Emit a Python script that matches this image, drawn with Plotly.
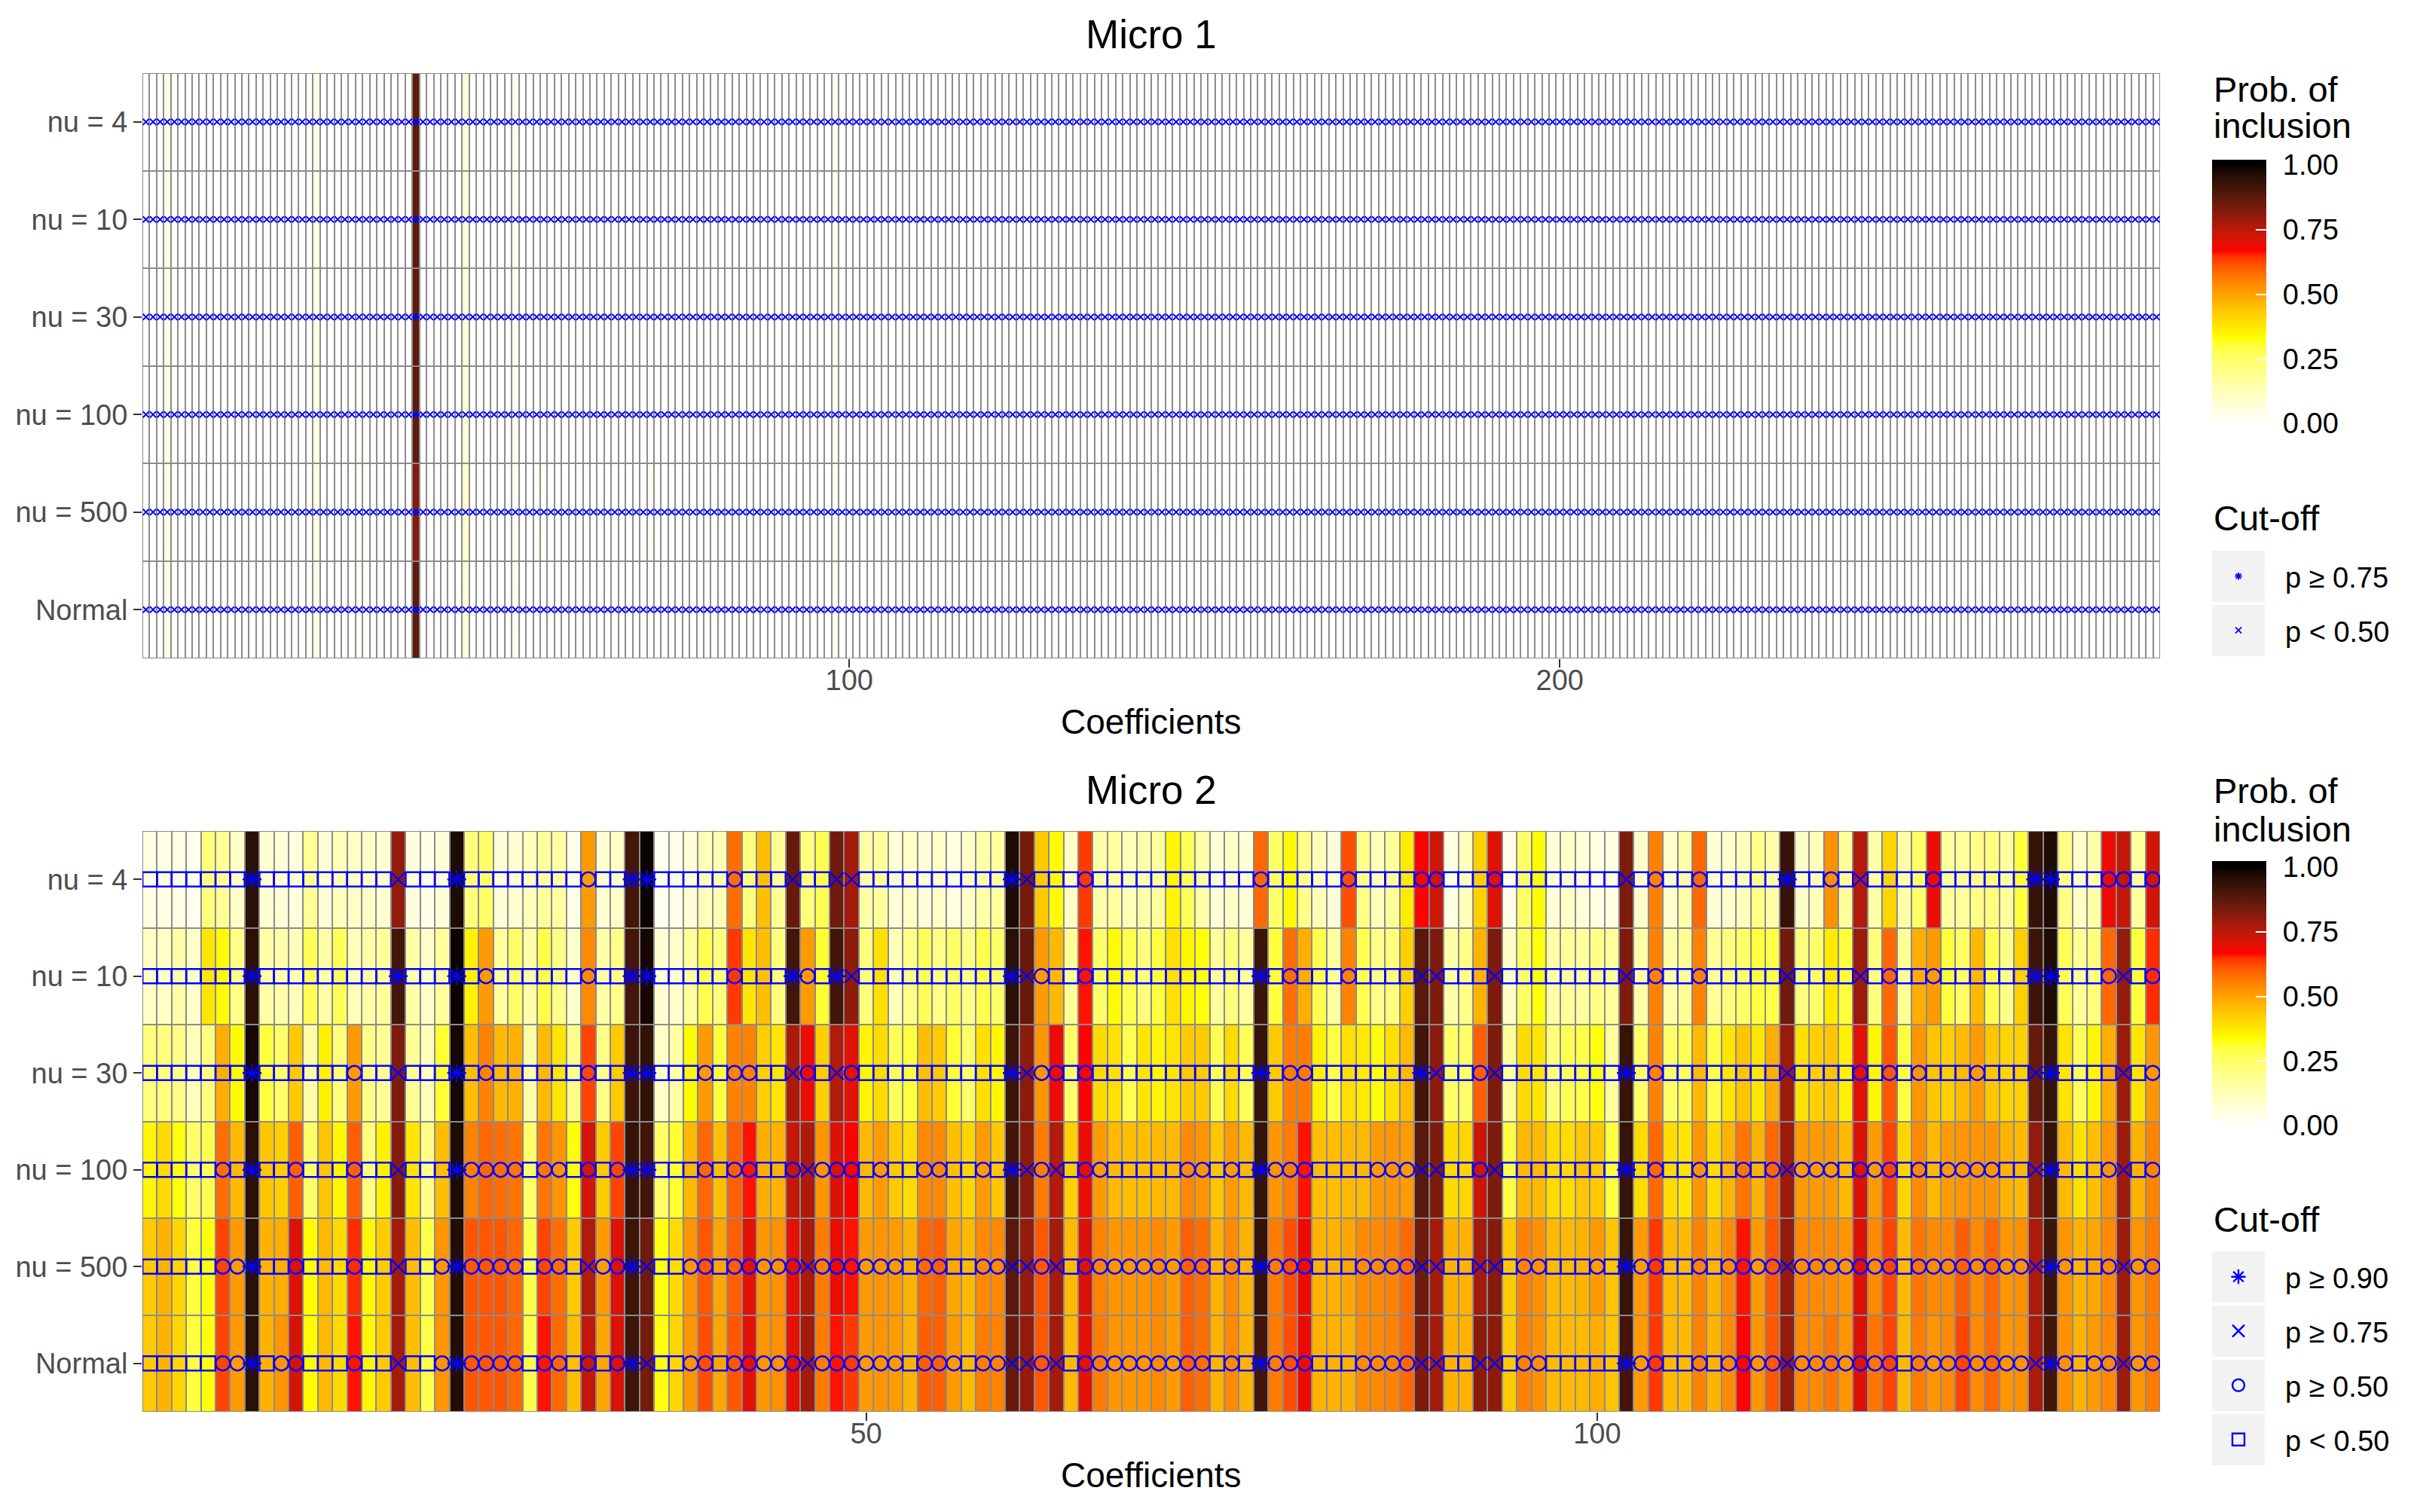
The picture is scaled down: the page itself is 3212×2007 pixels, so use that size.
import plotly.graph_objects as go

# ---------------------------------------------------------------- data
ROW_LABELS = ["nu = 4", "nu = 10", "nu = 30", "nu = 100", "nu = 500", "Normal"]
CUTOFF_LABELS = ["p \u2265 0.90", "p \u2265 0.75", "p \u2265 0.50", "p < 0.50"]
X_TICKS_MICRO1 = [100, 200]
X_TICKS_MICRO2 = [50, 100]
CBAR_TICKS = [0.00, 0.25, 0.50, 0.75, 1.00]

# Micro 1 : 284 coefficients per model
micro1_nu4 = [
    0, 0, 0, 0.04, 0, 0, 0, 0, 0, 0, 0, 0, 0, 0, 0, 0, 0, 0, 0, 0,
    0, 0, 0, 0, 0.04, 0, 0, 0, 0, 0, 0, 0, 0, 0, 0, 0, 0, 0, 0.87, 0,
    0, 0, 0, 0, 0, 0.07, 0, 0, 0, 0, 0, 0, 0.02, 0, 0, 0, 0, 0, 0, 0,
    0, 0, 0, 0, 0, 0, 0, 0, 0, 0, 0, 0, 0, 0, 0, 0, 0, 0, 0, 0,
    0, 0, 0, 0, 0, 0, 0, 0, 0, 0, 0, 0, 0, 0, 0, 0, 0, 0.02, 0, 0,
    0, 0, 0, 0, 0, 0, 0, 0, 0, 0, 0, 0, 0, 0, 0, 0, 0, 0, 0, 0,
    0, 0, 0, 0, 0, 0, 0, 0, 0, 0, 0, 0, 0, 0, 0, 0, 0, 0, 0, 0,
    0, 0, 0, 0, 0, 0, 0, 0, 0, 0, 0, 0, 0, 0, 0, 0, 0, 0, 0, 0,
    0, 0, 0, 0, 0, 0, 0, 0, 0, 0, 0, 0, 0, 0, 0, 0, 0, 0, 0, 0,
    0, 0, 0, 0, 0, 0, 0, 0, 0, 0, 0, 0, 0, 0, 0, 0, 0, 0, 0, 0,
    0, 0, 0, 0, 0, 0, 0, 0, 0, 0, 0, 0, 0, 0, 0, 0, 0, 0, 0, 0,
    0, 0, 0, 0, 0, 0, 0, 0, 0, 0, 0, 0, 0, 0, 0, 0, 0, 0, 0, 0,
    0, 0, 0, 0, 0, 0, 0, 0, 0, 0, 0, 0, 0, 0, 0, 0, 0, 0, 0, 0,
    0, 0, 0, 0, 0, 0, 0, 0, 0, 0, 0, 0, 0, 0, 0, 0, 0, 0, 0, 0,
    0, 0, 0, 0,
]
micro1_nu10 = [
    0, 0, 0, 0.04, 0, 0, 0, 0, 0, 0, 0, 0, 0, 0, 0, 0, 0, 0, 0, 0,
    0, 0, 0, 0, 0.05, 0, 0, 0, 0, 0, 0, 0, 0, 0, 0, 0, 0, 0, 0.87, 0,
    0, 0, 0, 0, 0, 0.07, 0, 0, 0, 0, 0, 0, 0.02, 0, 0, 0, 0, 0, 0, 0,
    0, 0, 0, 0, 0, 0, 0, 0, 0, 0, 0, 0, 0, 0, 0, 0, 0, 0, 0, 0,
    0, 0, 0, 0, 0, 0, 0, 0, 0, 0, 0, 0, 0, 0, 0, 0, 0, 0.02, 0, 0,
    0, 0, 0, 0, 0, 0, 0, 0, 0, 0, 0, 0, 0, 0, 0, 0, 0, 0, 0, 0,
    0, 0, 0, 0, 0, 0, 0, 0, 0, 0, 0, 0, 0, 0, 0, 0, 0, 0, 0, 0,
    0, 0, 0, 0, 0, 0, 0, 0, 0, 0, 0, 0, 0, 0, 0, 0, 0, 0, 0, 0,
    0, 0, 0, 0, 0, 0, 0, 0, 0, 0, 0, 0, 0, 0, 0, 0, 0, 0, 0, 0,
    0, 0, 0, 0, 0, 0, 0, 0, 0, 0, 0, 0, 0, 0, 0, 0, 0, 0, 0, 0,
    0, 0, 0, 0, 0, 0, 0, 0, 0, 0, 0, 0, 0, 0, 0, 0, 0, 0, 0, 0,
    0, 0, 0, 0, 0, 0, 0, 0, 0, 0, 0, 0, 0, 0, 0, 0, 0, 0, 0, 0,
    0, 0, 0, 0, 0, 0, 0, 0, 0, 0, 0, 0, 0, 0, 0, 0, 0, 0, 0, 0,
    0, 0, 0, 0, 0, 0, 0, 0, 0, 0, 0, 0, 0, 0, 0, 0, 0, 0, 0, 0,
    0, 0, 0, 0,
]
micro1_nu30 = [
    0, 0, 0, 0.04, 0, 0, 0, 0, 0, 0, 0, 0, 0, 0, 0, 0, 0, 0, 0, 0,
    0, 0, 0, 0, 0.05, 0, 0, 0, 0, 0, 0, 0, 0, 0, 0, 0, 0, 0, 0.87, 0,
    0, 0, 0, 0, 0, 0.07, 0, 0, 0, 0, 0, 0, 0.02, 0, 0, 0, 0, 0, 0, 0,
    0, 0, 0, 0, 0, 0, 0, 0, 0, 0, 0, 0, 0, 0, 0, 0, 0, 0, 0, 0,
    0, 0, 0, 0, 0, 0, 0, 0, 0, 0, 0, 0, 0, 0, 0, 0, 0, 0.02, 0, 0,
    0, 0, 0, 0, 0, 0, 0, 0, 0, 0, 0, 0, 0, 0, 0, 0, 0, 0, 0, 0,
    0, 0, 0, 0, 0, 0, 0, 0, 0, 0, 0, 0, 0, 0, 0, 0, 0, 0, 0, 0,
    0, 0, 0, 0, 0, 0, 0, 0, 0, 0, 0, 0, 0, 0, 0, 0, 0, 0, 0, 0,
    0, 0, 0, 0, 0, 0, 0, 0, 0, 0, 0, 0, 0, 0, 0, 0, 0, 0, 0, 0,
    0, 0, 0, 0, 0, 0, 0, 0, 0, 0, 0, 0, 0, 0, 0, 0, 0, 0, 0, 0,
    0, 0, 0, 0, 0, 0, 0, 0, 0, 0, 0, 0, 0, 0, 0, 0, 0, 0, 0, 0,
    0, 0, 0, 0, 0, 0, 0, 0, 0, 0, 0, 0, 0, 0, 0, 0, 0, 0, 0, 0,
    0, 0, 0, 0, 0, 0, 0, 0, 0, 0, 0, 0, 0, 0, 0, 0, 0, 0, 0, 0,
    0, 0, 0, 0, 0, 0, 0, 0, 0, 0, 0, 0, 0, 0, 0, 0, 0, 0, 0, 0,
    0, 0, 0, 0,
]
micro1_nu100 = [
    0, 0, 0, 0.04, 0, 0, 0, 0, 0, 0, 0, 0, 0, 0, 0, 0, 0, 0, 0, 0,
    0, 0, 0, 0, 0.05, 0, 0, 0, 0, 0, 0.02, 0, 0, 0, 0, 0, 0, 0, 0.87, 0,
    0, 0, 0, 0, 0, 0.07, 0, 0, 0, 0, 0, 0, 0.02, 0, 0, 0, 0, 0, 0, 0,
    0, 0, 0, 0, 0, 0, 0, 0, 0, 0, 0, 0, 0, 0, 0, 0, 0, 0, 0, 0,
    0, 0, 0, 0, 0, 0, 0, 0, 0, 0, 0, 0, 0, 0, 0, 0, 0, 0.02, 0, 0,
    0, 0, 0, 0, 0, 0, 0, 0, 0, 0, 0, 0, 0, 0, 0, 0, 0, 0, 0, 0,
    0, 0, 0, 0, 0, 0, 0, 0, 0, 0, 0, 0, 0, 0, 0, 0, 0, 0, 0, 0,
    0, 0, 0, 0, 0, 0, 0, 0, 0, 0, 0, 0, 0, 0, 0, 0, 0, 0, 0, 0,
    0, 0, 0, 0, 0, 0, 0, 0, 0, 0, 0, 0, 0, 0, 0, 0, 0, 0, 0, 0,
    0, 0, 0, 0, 0, 0, 0, 0, 0, 0, 0, 0, 0, 0, 0, 0, 0, 0, 0, 0,
    0, 0, 0, 0, 0, 0, 0, 0, 0, 0, 0, 0, 0, 0, 0, 0, 0, 0, 0, 0,
    0, 0, 0, 0, 0, 0, 0, 0, 0, 0, 0, 0, 0, 0, 0, 0, 0, 0, 0, 0,
    0, 0, 0, 0, 0, 0, 0, 0, 0, 0, 0, 0, 0, 0, 0, 0, 0, 0, 0, 0,
    0, 0, 0, 0, 0, 0, 0, 0, 0, 0, 0, 0, 0, 0, 0, 0, 0, 0, 0, 0,
    0, 0, 0, 0,
]
micro1_nu500 = [
    0, 0, 0, 0.04, 0, 0, 0, 0, 0, 0, 0, 0, 0, 0, 0, 0, 0, 0, 0, 0,
    0, 0, 0, 0, 0.05, 0, 0, 0, 0, 0, 0.02, 0, 0, 0, 0, 0, 0, 0, 0.82, 0,
    0, 0, 0, 0, 0, 0.08, 0, 0, 0, 0, 0, 0, 0.02, 0, 0, 0, 0.02, 0, 0, 0,
    0, 0, 0, 0, 0, 0, 0, 0, 0, 0, 0, 0.02, 0, 0, 0, 0, 0, 0, 0, 0,
    0, 0, 0, 0, 0, 0, 0, 0, 0, 0, 0, 0, 0, 0, 0, 0, 0, 0.02, 0, 0,
    0, 0, 0, 0, 0, 0, 0, 0, 0, 0, 0, 0, 0, 0, 0, 0, 0, 0, 0, 0,
    0, 0, 0, 0, 0, 0, 0, 0, 0, 0, 0, 0, 0, 0, 0, 0, 0, 0, 0, 0,
    0, 0, 0, 0, 0, 0, 0, 0, 0, 0, 0, 0, 0, 0, 0, 0, 0, 0, 0, 0,
    0, 0, 0, 0, 0, 0, 0, 0, 0, 0, 0, 0, 0, 0, 0, 0, 0, 0, 0, 0,
    0, 0, 0, 0, 0, 0, 0, 0, 0, 0, 0, 0, 0, 0, 0, 0, 0, 0, 0, 0,
    0, 0, 0, 0, 0, 0, 0, 0, 0, 0, 0, 0, 0, 0, 0, 0, 0, 0, 0, 0,
    0, 0, 0, 0, 0, 0, 0, 0, 0, 0, 0, 0, 0, 0, 0, 0, 0, 0, 0, 0,
    0, 0, 0, 0, 0, 0, 0, 0, 0, 0, 0, 0, 0, 0, 0, 0, 0, 0, 0, 0,
    0, 0, 0, 0, 0, 0, 0, 0, 0, 0, 0, 0, 0, 0, 0, 0, 0, 0, 0, 0,
    0, 0, 0, 0,
]
micro1_normal = [
    0, 0, 0, 0.04, 0, 0, 0, 0, 0, 0, 0, 0, 0, 0, 0, 0, 0, 0, 0, 0,
    0, 0, 0, 0, 0.04, 0, 0, 0, 0, 0, 0.02, 0, 0, 0, 0, 0, 0, 0, 0.87, 0,
    0, 0, 0, 0, 0, 0.07, 0, 0, 0, 0, 0, 0, 0.02, 0, 0, 0, 0, 0, 0, 0,
    0, 0, 0, 0, 0, 0, 0, 0, 0, 0, 0, 0, 0, 0, 0, 0, 0, 0, 0, 0,
    0, 0, 0, 0, 0, 0, 0, 0, 0, 0, 0, 0, 0, 0, 0, 0, 0, 0.02, 0, 0,
    0, 0, 0, 0, 0, 0, 0, 0, 0, 0, 0, 0, 0, 0, 0, 0, 0, 0, 0, 0,
    0, 0, 0, 0, 0, 0, 0, 0, 0, 0, 0, 0, 0, 0, 0, 0, 0, 0, 0, 0,
    0, 0, 0, 0, 0, 0, 0, 0, 0, 0, 0, 0, 0, 0, 0, 0, 0, 0, 0, 0,
    0, 0, 0, 0, 0, 0, 0, 0, 0, 0, 0, 0, 0, 0, 0, 0, 0, 0, 0, 0,
    0, 0, 0, 0, 0, 0, 0, 0, 0, 0, 0, 0, 0, 0, 0, 0, 0, 0, 0, 0,
    0, 0, 0, 0, 0, 0, 0, 0, 0, 0, 0, 0, 0, 0, 0, 0, 0, 0, 0, 0,
    0, 0, 0, 0, 0, 0, 0, 0, 0, 0, 0, 0, 0, 0, 0, 0, 0, 0, 0, 0,
    0, 0, 0, 0, 0, 0, 0, 0, 0, 0, 0, 0, 0, 0, 0, 0, 0, 0, 0, 0,
    0, 0, 0, 0, 0, 0, 0, 0, 0, 0, 0, 0, 0, 0, 0, 0, 0, 0, 0, 0,
    0, 0, 0, 0,
]

# Micro 2 : 138 coefficients per model
micro2_nu4 = [
    0.05, 0.05, 0.05, 0.03, 0.22, 0.18, 0.10, 0.95, 0.08, 0.07,
    0.06, 0.18, 0.07, 0.12, 0.10, 0.10, 0.08, 0.80, 0.06, 0.04,
    0.07, 0.97, 0.22, 0.25, 0.07, 0.08, 0.12, 0.17, 0.16, 0.04,
    0.51, 0.08, 0.10, 0.91, 0.99, 0.03, 0.04, 0.07, 0.12, 0.13,
    0.58, 0.22, 0.45, 0.18, 0.86, 0.22, 0.28, 0.85, 0.78, 0.15,
    0.17, 0.07, 0.10, 0.07, 0.10, 0.05, 0.10, 0.15, 0.17, 0.97,
    0.84, 0.43, 0.34, 0.10, 0.64, 0.15, 0.17, 0.12, 0.15, 0.17,
    0.35, 0.27, 0.15, 0.07, 0.10, 0.07, 0.59, 0.25, 0.34, 0.20,
    0.12, 0.07, 0.62, 0.20, 0.12, 0.17, 0.37, 0.67, 0.73, 0.05,
    0.12, 0.42, 0.71, 0.04, 0.25, 0.34, 0.07, 0.10, 0.07, 0.05,
    0.05, 0.83, 0.09, 0.55, 0.09, 0.15, 0.59, 0.07, 0.09, 0.12,
    0.20, 0.15, 0.93, 0.10, 0.12, 0.53, 0.17, 0.76, 0.15, 0.41,
    0.15, 0.25, 0.69, 0.17, 0.17, 0.20, 0.22, 0.17, 0.30, 0.93,
    0.97, 0.20, 0.10, 0.15, 0.69, 0.74, 0.17, 0.72,
]
micro2_nu10 = [
    0.10, 0.10, 0.15, 0.09, 0.38, 0.34, 0.20, 0.95, 0.15, 0.15,
    0.12, 0.27, 0.15, 0.27, 0.12, 0.15, 0.17, 0.91, 0.15, 0.09,
    0.17, 0.99, 0.36, 0.51, 0.17, 0.25, 0.15, 0.29, 0.20, 0.09,
    0.54, 0.15, 0.20, 0.91, 0.98, 0.08, 0.09, 0.17, 0.28, 0.22,
    0.64, 0.38, 0.45, 0.22, 0.91, 0.51, 0.31, 0.91, 0.81, 0.22,
    0.39, 0.12, 0.20, 0.27, 0.20, 0.25, 0.20, 0.28, 0.25, 0.95,
    0.86, 0.51, 0.46, 0.18, 0.66, 0.25, 0.34, 0.28, 0.22, 0.30,
    0.39, 0.35, 0.33, 0.17, 0.22, 0.17, 0.92, 0.30, 0.58, 0.48,
    0.28, 0.17, 0.55, 0.28, 0.20, 0.22, 0.42, 0.88, 0.83, 0.15,
    0.20, 0.47, 0.83, 0.10, 0.25, 0.33, 0.15, 0.17, 0.17, 0.20,
    0.17, 0.83, 0.15, 0.55, 0.15, 0.18, 0.55, 0.18, 0.22, 0.25,
    0.30, 0.29, 0.85, 0.22, 0.25, 0.37, 0.30, 0.79, 0.22, 0.59,
    0.18, 0.48, 0.51, 0.30, 0.25, 0.46, 0.28, 0.20, 0.42, 0.92,
    0.97, 0.27, 0.18, 0.22, 0.59, 0.80, 0.30, 0.65,
]
micro2_nu30 = [
    0.22, 0.22, 0.20, 0.12, 0.22, 0.48, 0.34, 0.98, 0.30, 0.25,
    0.43, 0.15, 0.36, 0.22, 0.51, 0.20, 0.18, 0.83, 0.18, 0.12,
    0.31, 0.98, 0.45, 0.55, 0.46, 0.47, 0.15, 0.46, 0.38, 0.20,
    0.63, 0.20, 0.43, 0.92, 0.94, 0.10, 0.15, 0.34, 0.51, 0.30,
    0.55, 0.55, 0.42, 0.38, 0.77, 0.69, 0.42, 0.76, 0.70, 0.35,
    0.40, 0.27, 0.30, 0.45, 0.43, 0.31, 0.25, 0.39, 0.35, 0.92,
    0.81, 0.52, 0.69, 0.25, 0.67, 0.40, 0.39, 0.28, 0.38, 0.35,
    0.38, 0.43, 0.43, 0.28, 0.40, 0.27, 0.93, 0.43, 0.56, 0.56,
    0.36, 0.29, 0.39, 0.37, 0.33, 0.39, 0.46, 0.91, 0.81, 0.25,
    0.25, 0.60, 0.83, 0.17, 0.40, 0.38, 0.22, 0.27, 0.29, 0.33,
    0.17, 0.93, 0.25, 0.55, 0.25, 0.27, 0.46, 0.29, 0.38, 0.44,
    0.38, 0.48, 0.79, 0.39, 0.42, 0.44, 0.36, 0.70, 0.35, 0.61,
    0.30, 0.52, 0.44, 0.42, 0.46, 0.51, 0.44, 0.41, 0.42, 0.86,
    0.93, 0.38, 0.27, 0.35, 0.48, 0.79, 0.38, 0.52,
]
micro2_nu100 = [
    0.35, 0.40, 0.33, 0.25, 0.28, 0.58, 0.46, 0.95, 0.44, 0.42,
    0.60, 0.25, 0.44, 0.35, 0.60, 0.22, 0.36, 0.82, 0.38, 0.20,
    0.45, 0.97, 0.55, 0.59, 0.58, 0.57, 0.25, 0.57, 0.52, 0.33,
    0.72, 0.43, 0.63, 0.93, 0.91, 0.25, 0.31, 0.46, 0.59, 0.45,
    0.60, 0.66, 0.48, 0.47, 0.74, 0.77, 0.52, 0.71, 0.67, 0.46,
    0.51, 0.43, 0.40, 0.54, 0.54, 0.45, 0.41, 0.51, 0.44, 0.91,
    0.81, 0.56, 0.76, 0.42, 0.69, 0.51, 0.46, 0.45, 0.45, 0.46,
    0.46, 0.54, 0.52, 0.44, 0.51, 0.46, 0.93, 0.52, 0.56, 0.66,
    0.45, 0.45, 0.46, 0.46, 0.51, 0.52, 0.51, 0.88, 0.83, 0.40,
    0.41, 0.73, 0.83, 0.29, 0.46, 0.46, 0.40, 0.40, 0.44, 0.43,
    0.30, 0.93, 0.40, 0.59, 0.40, 0.38, 0.52, 0.40, 0.47, 0.57,
    0.47, 0.59, 0.79, 0.51, 0.51, 0.51, 0.46, 0.71, 0.51, 0.63,
    0.41, 0.54, 0.46, 0.51, 0.52, 0.52, 0.52, 0.47, 0.46, 0.80,
    0.93, 0.46, 0.39, 0.45, 0.52, 0.79, 0.47, 0.55,
]
micro2_nu500 = [
    0.43, 0.47, 0.41, 0.30, 0.33, 0.63, 0.51, 0.95, 0.47, 0.48,
    0.71, 0.34, 0.46, 0.40, 0.65, 0.35, 0.43, 0.78, 0.45, 0.29,
    0.52, 0.96, 0.61, 0.61, 0.61, 0.59, 0.29, 0.63, 0.58, 0.43,
    0.76, 0.51, 0.71, 0.92, 0.85, 0.33, 0.40, 0.52, 0.61, 0.49,
    0.60, 0.70, 0.52, 0.53, 0.70, 0.77, 0.56, 0.69, 0.66, 0.51,
    0.52, 0.51, 0.47, 0.59, 0.60, 0.49, 0.46, 0.54, 0.54, 0.88,
    0.80, 0.61, 0.78, 0.46, 0.71, 0.55, 0.52, 0.52, 0.52, 0.54,
    0.51, 0.60, 0.58, 0.47, 0.54, 0.47, 0.93, 0.56, 0.62, 0.69,
    0.47, 0.47, 0.49, 0.54, 0.54, 0.55, 0.59, 0.85, 0.78, 0.47,
    0.47, 0.78, 0.82, 0.43, 0.55, 0.53, 0.46, 0.46, 0.47, 0.51,
    0.44, 0.93, 0.51, 0.64, 0.46, 0.46, 0.55, 0.47, 0.54, 0.66,
    0.51, 0.61, 0.80, 0.54, 0.54, 0.54, 0.52, 0.71, 0.54, 0.63,
    0.46, 0.57, 0.54, 0.54, 0.60, 0.54, 0.59, 0.52, 0.53, 0.77,
    0.92, 0.52, 0.47, 0.49, 0.54, 0.79, 0.52, 0.56,
]
micro2_normal = [
    0.43, 0.47, 0.41, 0.30, 0.33, 0.63, 0.51, 0.95, 0.47, 0.52,
    0.72, 0.34, 0.46, 0.40, 0.66, 0.35, 0.43, 0.78, 0.45, 0.29,
    0.52, 0.96, 0.61, 0.61, 0.61, 0.59, 0.29, 0.66, 0.59, 0.45,
    0.74, 0.49, 0.71, 0.92, 0.84, 0.33, 0.41, 0.52, 0.62, 0.49,
    0.61, 0.70, 0.52, 0.53, 0.70, 0.78, 0.56, 0.66, 0.64, 0.51,
    0.52, 0.51, 0.47, 0.60, 0.60, 0.51, 0.46, 0.56, 0.55, 0.86,
    0.80, 0.61, 0.78, 0.46, 0.70, 0.56, 0.52, 0.52, 0.52, 0.54,
    0.51, 0.60, 0.58, 0.47, 0.54, 0.47, 0.91, 0.56, 0.62, 0.69,
    0.47, 0.47, 0.47, 0.54, 0.54, 0.55, 0.59, 0.83, 0.78, 0.47,
    0.47, 0.81, 0.81, 0.43, 0.55, 0.53, 0.46, 0.46, 0.46, 0.48,
    0.44, 0.91, 0.51, 0.64, 0.46, 0.46, 0.55, 0.47, 0.54, 0.67,
    0.52, 0.61, 0.80, 0.54, 0.54, 0.57, 0.52, 0.71, 0.57, 0.63,
    0.46, 0.56, 0.52, 0.54, 0.63, 0.54, 0.59, 0.52, 0.53, 0.77,
    0.91, 0.53, 0.47, 0.51, 0.54, 0.79, 0.52, 0.56,
]

micro1 = [micro1_nu4, micro1_nu10, micro1_nu30, micro1_nu100, micro1_nu500, micro1_normal]
micro2 = [micro2_nu4, micro2_nu10, micro2_nu30, micro2_nu100, micro2_nu500, micro2_normal]
N1 = len(micro1_nu4)
N2 = len(micro2_nu4)
assert all(len(r) == N1 for r in micro1)
assert all(len(r) == N2 for r in micro2)

# ---------------------------------------------------------------- styling helpers
FONT = "Liberation Sans, Arial, Helvetica, sans-serif"
OFF = 8                      # default page margin of the html body
FIG_W, FIG_H = 3212 - 2 * OFF, 2007 - 2 * OFF
PL, PR, PT, PB = 189, 2867, 97, 1874      # plot area in page pixels
LEG_X = 2936                               # left edge of legend column (page px)


def px_x(px):
    return (px - PL) / (PR - PL)


def px_y(py):
    return (PB - py) / (PB - PT)


# ggplot2-like colour ramp (white -> yellow -> red -> black, interpolated in CIELAB)
def _lin(c):
    c = c / 255.0
    return c / 12.92 if c <= 0.04045 else ((c + 0.055) / 1.055) ** 2.4


def _unlin(c):
    c = 12.92 * c if c <= 0.0031308 else 1.055 * c ** (1 / 2.4) - 0.055
    return max(0, min(255, round(c * 255)))


WHITE_PT = (0.95047, 1.0, 1.08883)


def _f(t):
    return t ** (1 / 3) if t > (6 / 29) ** 3 else t / (3 * (6 / 29) ** 2) + 4 / 29


def _finv(t):
    return t ** 3 if t > 6 / 29 else 3 * (6 / 29) ** 2 * (t - 4 / 29)


def rgb2lab(rgb):
    r, g, b = (_lin(v) for v in rgb)
    X = 0.4124564 * r + 0.3575761 * g + 0.1804375 * b
    Y = 0.2126729 * r + 0.7151522 * g + 0.0721750 * b
    Z = 0.0193339 * r + 0.1191920 * g + 0.9503041 * b
    fx, fy, fz = _f(X / WHITE_PT[0]), _f(Y / WHITE_PT[1]), _f(Z / WHITE_PT[2])
    return (116 * fy - 16, 500 * (fx - fy), 200 * (fy - fz))


def lab2rgb(lab):
    L, a, b = lab
    fy = (L + 16) / 116
    fx = fy + a / 500
    fz = fy - b / 200
    X, Y, Z = WHITE_PT[0] * _finv(fx), WHITE_PT[1] * _finv(fy), WHITE_PT[2] * _finv(fz)
    r = 3.2404542 * X - 1.5371385 * Y - 0.4985314 * Z
    g = -0.9692660 * X + 1.8760108 * Y + 0.0415560 * Z
    bb = 0.0556434 * X - 0.2040259 * Y + 1.0572252 * Z
    return tuple(_unlin(max(0.0, v)) for v in (r, g, bb))


RAMP = [(255, 255, 255), (255, 255, 0), (255, 0, 0), (0, 0, 0)]
RAMP_LAB = [rgb2lab(c) for c in RAMP]
colorscale = []
NSTOP = 72
for i in range(NSTOP + 1):
    t = i / NSTOP
    seg = min(int(t * 3), 2)
    u = t * 3 - seg
    a, b = RAMP_LAB[seg], RAMP_LAB[seg + 1]
    lab = tuple(a[k] + (b[k] - a[k]) * u for k in range(3))
    r, g, bl = lab2rgb(lab)
    colorscale.append([t, f"rgb({r},{g},{bl})"])


def level(v):
    if v >= 0.90:
        return 0
    if v >= 0.75:
        return 1
    if v >= 0.50:
        return 2
    return 3


SHAPES = ["asterisk-open", "x-thin-open", "circle-open", "square-open"]
MARKER_BLUE = "#0000FF"
TILE_BORDER = "#8C8C8C"
CB_LEN = 343
CB_THICK = 72

fig = go.Figure()


def add_panel(rows, n, xa, ya, cb_tick_top, bar_top, legend_names, legend_centres, msize, mwidth):
    xs = list(range(1, n + 1))
    fig.add_trace(go.Heatmap(
        z=rows, x=xs, y=ROW_LABELS, xaxis=xa, yaxis=ya,
        zmin=0, zmax=1, colorscale=colorscale, xgap=2, ygap=2,
        hoverinfo="skip", showlegend=False,
        colorbar=dict(
            x=px_x(LEG_X), xanchor="left", y=px_y(cb_tick_top), yanchor="top",
            len=CB_LEN, lenmode="pixels", thickness=CB_THICK, thicknessmode="pixels",
            xpad=0, ypad=0, outlinewidth=0,
            tickmode="array", tickvals=CBAR_TICKS,
            ticktext=[" \u200a" + f"{v:.2f}" for v in CBAR_TICKS],
            ticks="inside", ticklen=14, tickwidth=2, tickcolor="white",
            tickfont=dict(size=38, color="black", family=FONT),
            title=dict(text=""),
        ),
    ))
    # ggplot's bar continues a little beyond the 1.00 tick (black end)
    fig.add_shape(type="rect", xref="paper", yref="paper",
                  x0=px_x(LEG_X), x1=px_x(LEG_X + CB_THICK),
                  y0=px_y(cb_tick_top + 1), y1=px_y(bar_top),
                  fillcolor="#000000", line=dict(width=0), layer="above")
    # which cut-off levels are present (ggplot assigns shapes in order of present levels)
    present = sorted({level(v) for r in rows for v in r})
    for k, lev in enumerate(present):
        px, py = [], []
        for lab, r in zip(ROW_LABELS, rows):
            for x, v in zip(xs, r):
                if level(v) == lev:
                    px.append(x)
                    py.append(lab)
        sym = SHAPES[k]
        fig.add_trace(go.Scatter(
            x=px, y=py, xaxis=xa, yaxis=ya, mode="markers",
            name=CUTOFF_LABELS[lev], legend=legend_names[k],
            marker=dict(symbol=sym, size=msize[sym], color=MARKER_BLUE,
                        line=dict(color=MARKER_BLUE, width=mwidth)),
            hoverinfo="skip",
        ))
        # grey key background like ggplot
        cy = legend_centres[k]
        fig.add_shape(type="rect", xref="paper", yref="paper",
                      x0=px_x(LEG_X), x1=px_x(LEG_X + 70), y0=px_y(cy + 34), y1=px_y(cy - 34),
                      fillcolor="#F2F2F2", line=dict(width=0), layer="below")
        fig.layout[legend_names[k]] = dict(
            x=px_x(LEG_X + 35 - 62), xanchor="left", y=px_y(cy), yanchor="middle",
            bgcolor="rgba(0,0,0,0)", borderwidth=0, itemwidth=114,
            font=dict(size=38, color="black", family=FONT),
            itemclick=False, itemdoubleclick=False,
        )


add_panel(micro1, N1, "x", "y", 219, 212, ["legend", "legend2"], [765, 837],
          {"asterisk-open": 8, "x-thin-open": 8, "circle-open": 8, "square-open": 8}, 1.8)
add_panel(micro2, N2, "x2", "y2", 1151, 1143, ["legend3", "legend4", "legend5", "legend6"],
          [1695, 1767, 1839, 1911],
          {"asterisk-open": 21, "x-thin-open": 18, "circle-open": 19, "square-open": 19}, 2.4)

axis_common = dict(
    ticks="outside", ticklen=11, tickwidth=2.2, tickcolor="#333333",
    tickfont=dict(size=38, color="#4D4D4D", family=FONT),
    showgrid=False, zeroline=False, showline=False,
)
fig.update_layout(
    xaxis=dict(domain=[0, 1], anchor="y", range=[0.5, N1 + 0.5],
               tickmode="array", tickvals=X_TICKS_MICRO1, ticklabelstandoff=-16, **axis_common),
    yaxis=dict(domain=[px_y(874), 1], anchor="x", type="category",
               categoryorder="array", categoryarray=ROW_LABELS, autorange="reversed",
               **axis_common),
    xaxis2=dict(domain=[0, 1], anchor="y2", range=[0.5, N2 + 0.5],
                tickmode="array", tickvals=X_TICKS_MICRO2, ticklabelstandoff=-16, **axis_common),
    yaxis2=dict(domain=[0, px_y(1103)], anchor="x2", type="category",
                categoryorder="array", categoryarray=ROW_LABELS, autorange="reversed",
                **axis_common),
    width=FIG_W, height=FIG_H,
    margin=dict(l=PL - OFF, r=FIG_W - (PR - OFF), t=PT - OFF, b=FIG_H - (PB - OFF), pad=0),
    paper_bgcolor="white", plot_bgcolor=TILE_BORDER,
    font=dict(family=FONT, color="black"),
    showlegend=True,
)

texts = [
    ("Micro 1", 1528, 45, 53, "center"),
    ("Micro 2", 1528, 1048, 53, "center"),
    ("Coefficients", 1528, 958, 46, "center"),
    ("Coefficients", 1528, 1958, 46, "center"),
    ("Prob. of", LEG_X, 118, 47, "left"),
    ("inclusion", LEG_X, 167, 47, "left"),
    ("Cut-off", LEG_X, 687, 47, "left"),
    ("Prob. of", LEG_X, 1049, 47, "left"),
    ("inclusion", LEG_X, 1100, 47, "left"),
    ("Cut-off", LEG_X, 1618, 47, "left"),
]
for txt, x, y, size, anchor in texts:
    fig.add_annotation(text=txt, xref="paper", yref="paper", x=px_x(x), y=px_y(y),
                       xanchor=anchor, yanchor="middle", showarrow=False,
                       font=dict(size=size, color="black", family=FONT))

fig.write_html("out.html")
